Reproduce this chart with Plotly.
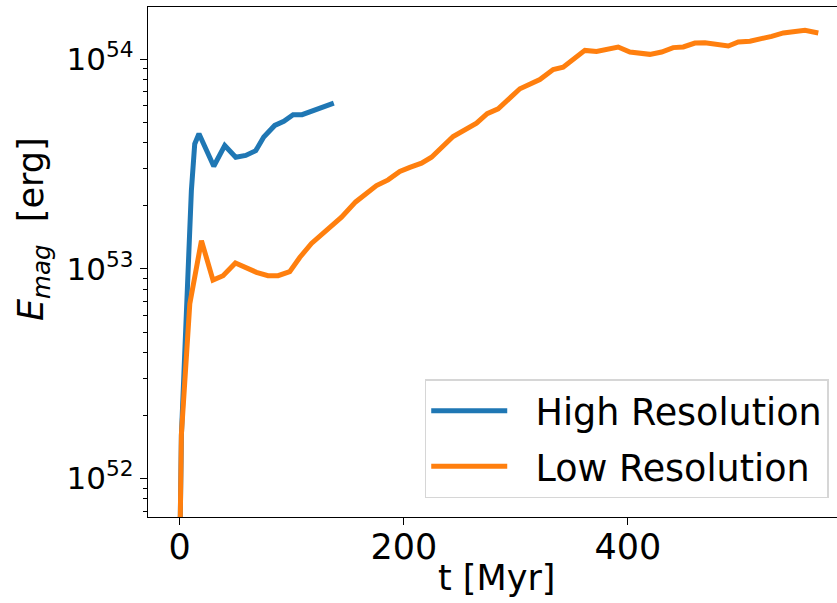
import plotly.graph_objects as go

# Magnetic energy evolution for two resolutions (energies in units of 1e53 erg)
hr_t = [0, 1.5, 10.4, 13.4, 17.2, 30.4, 40.2, 50, 58.9, 67.9, 75, 84.8, 92.9,
        101.2, 109.2, 117.6, 127.4, 137.5]
hr_e = [0.04, 0.16, 2.36, 3.95, 4.42, 3.09, 3.88, 3.41, 3.48, 3.67, 4.26, 4.84,
        5.07, 5.45, 5.45, 5.65, 5.87, 6.18]

lr_t = [0, 1.5, 9, 19.4, 29.7, 38.7, 49.7, 68.5, 78.8, 87.8, 98.2, 107.1, 117.6,
        129.5, 144.4, 157, 175.6, 186, 196.4, 205.4, 215.8, 224.7, 244, 264.9,
        274.4, 284.2, 303.6, 321.4, 333.3, 342.2, 361.6, 372, 391.3, 401.8,
        419.6, 430.1, 440.4, 449.4, 459.8, 468.8, 489.6, 498.5, 508.9, 528.3,
        538.7, 558, 569.9]
lr_e = [0.04, 0.162, 0.682, 1.365, 0.885, 0.929, 1.069, 0.964, 0.929, 0.929,
        0.971, 1.135, 1.324, 1.496, 1.766, 2.089, 2.5, 2.661, 2.917, 3.055,
        3.199, 3.412, 4.285, 4.966, 5.508, 5.808, 7.244, 8.017, 8.954, 9.183,
        11.04, 10.91, 11.46, 10.84, 10.57, 10.84, 11.38, 11.46, 11.97, 12.02,
        11.59, 12.11, 12.22, 12.88, 13.37, 13.77, 13.37]

UNIT = 1e53

x_ticks = [0, 200, 400]
y_ticks = [1e52, 1e53, 1e54]
y_ticktext = ["10<sup>52</sup>", "10<sup>53</sup>", "10<sup>54</sup>"]
y_minor = [float(m) * 10.0 ** p for p in (51, 52, 53) for m in range(2, 10)]

FONT = "DejaVu Sans"
GAP = "\u00a0\u00a0"  # spacing between legend line and label

fig = go.Figure()
fig.add_trace(go.Scatter(
    x=hr_t, y=[v * UNIT for v in hr_e], mode="lines",
    name=GAP + "High Resolution", legendgroup="hr",
    line=dict(color="#1f77b4", width=5)))
fig.add_trace(go.Scatter(
    x=lr_t, y=[v * UNIT for v in lr_e], mode="lines",
    name=GAP + "Low Resolution", legendgroup="lr",
    line=dict(color="#ff7f0e", width=5)))

fig.update_layout(
    width=837, height=603,
    margin=dict(l=148, r=0, t=7, b=86),
    paper_bgcolor="white", plot_bgcolor="white",
    font=dict(family=FONT, color="black"),
    showlegend=True,
    legend=dict(
        x=0.988, y=0.037, xanchor="right", yanchor="bottom",
        bgcolor="white", bordercolor="#d6d6d6", borderwidth=1.5,
        font=dict(family=FONT, size=36.5, color="black"),
        itemwidth=76, tracegroupgap=5,
    ),
    xaxis=dict(
        range=[-28.3, 586.6], tickmode="array", tickvals=x_ticks,
        ticks="outside", ticklen=7, tickwidth=1.3, tickcolor="black",
        ticklabelstandoff=-8,
        showline=True, linecolor="black", linewidth=1.3, mirror=True,
        showgrid=False, zeroline=False, automargin=False,
        tickfont=dict(family=FONT, size=35, color="black"),
    ),
    yaxis=dict(
        type="log", range=[51.8165, 54.25], tickmode="array",
        tickvals=y_ticks, ticktext=y_ticktext,
        ticks="outside", ticklen=7, tickwidth=1.3, tickcolor="black",
        minor=dict(tickmode="array", tickvals=y_minor, ticks="outside",
                   ticklen=4, tickwidth=1, tickcolor="black", showgrid=False),
        showline=True, linecolor="black", linewidth=1.3,
        showgrid=False, zeroline=False, automargin=False,
        tickfont=dict(family=FONT, size=31, color="black"),
    ),
    annotations=[
        dict(text="t [Myr]", xref="paper", yref="paper", x=0.5065, y=-0.1196,
             xanchor="center", yanchor="middle", showarrow=False,
             font=dict(family=FONT, size=35, color="black")),
        dict(text="<i>E<sub>mag</sub></i>  [erg]", xref="paper", yref="paper",
             x=-0.1669, y=0.5647, xanchor="center", yanchor="middle",
             textangle=-90, showarrow=False,
             font=dict(family=FONT, size=35, color="black")),
    ],
)

fig.write_html("out.html")
